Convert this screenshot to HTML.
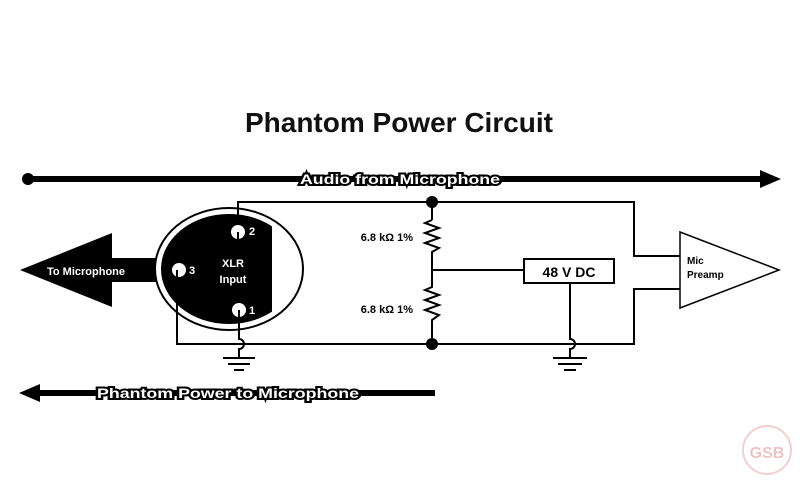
<!DOCTYPE html>
<html><head><meta charset="utf-8"><style>
html,body{margin:0;padding:0;background:#fff;}
svg{display:block;font-family:"Liberation Sans",sans-serif;}
</style></head><body>
<svg width="800" height="500" viewBox="0 0 800 500" xmlns="http://www.w3.org/2000/svg">
<rect width="800" height="500" fill="#fff"/>
<text x="399" y="132" text-anchor="middle" font-size="28" font-weight="bold" fill="#111">Phantom Power Circuit</text>
<!-- top arrow -->
<circle cx="28" cy="179" r="6" fill="#000"/>
<line x1="28" y1="179" x2="762" y2="179" stroke="#000" stroke-width="6"/>
<polygon points="760,170 781,179 760,188" fill="#000"/>
<text x="400" y="184" text-anchor="middle" font-size="14" font-weight="bold" fill="#fff" stroke="#000" stroke-width="4" paint-order="stroke" textLength="200" lengthAdjust="spacingAndGlyphs">Audio from Microphone</text>
<!-- bottom arrow -->
<line x1="36" y1="393" x2="435" y2="393" stroke="#000" stroke-width="6"/>
<polygon points="40,384 19,393 40,402" fill="#000"/>
<text x="228" y="398" text-anchor="middle" font-size="14" font-weight="bold" fill="#fff" stroke="#000" stroke-width="4" paint-order="stroke" textLength="262" lengthAdjust="spacingAndGlyphs">Phantom Power to Microphone</text>
<!-- big left arrow -->
<polygon points="20,270 112,233 112,258 165,258 165,282 112,282 112,307" fill="#000"/>
<text x="47" y="275" font-size="11" font-weight="bold" fill="#fff">To Microphone</text>
<!-- XLR -->
<ellipse cx="229" cy="269" rx="74" ry="61" fill="#fff" stroke="#000" stroke-width="2"/>
<clipPath id="c"><rect x="0" y="0" width="272" height="500"/></clipPath>
<ellipse cx="229" cy="269" rx="68" ry="55" fill="#000" clip-path="url(#c)"/>
<!-- wires -->
<g fill="none" stroke="#000" stroke-width="2">
<polyline points="238,232 238,202 634,202 634,256 680,256"/>
<polyline points="177,270 177,344 634,344 634,289 680,289"/>
<line x1="432" y1="202" x2="432" y2="220"/>
<polyline points="432,220 425,223 439,228 425,233 439,238 425,243 439,248 432,252 432,287 425,290 439,295 425,300 439,305 425,310 439,315 432,320 432,344"/>
<line x1="432" y1="270" x2="524" y2="270"/>
<rect x="524" y="259" width="90" height="24"/>
<path d="M570,283 V339 a5,5 0 0 1 0,10 V358"/>
<path d="M239,310 V339 a5,5 0 0 1 0,10 V358"/>
</g>
<circle cx="432" cy="202" r="6" fill="#000"/>
<circle cx="432" cy="344" r="6" fill="#000"/>
<text x="569" y="277" text-anchor="middle" font-size="14" font-weight="bold" fill="#000">48 V DC</text>
<text x="413" y="241" text-anchor="end" font-size="11" font-weight="bold" fill="#000">6.8 kΩ 1%</text>
<text x="413" y="313" text-anchor="end" font-size="11" font-weight="bold" fill="#000">6.8 kΩ 1%</text>
<!-- pins -->
<circle cx="238" cy="232" r="7" fill="#fff"/>
<circle cx="179" cy="270" r="7" fill="#fff"/>
<circle cx="239" cy="310" r="7" fill="#fff"/>
<g stroke="#000" stroke-width="2"><line x1="238" y1="232" x2="238" y2="240"/><line x1="177" y1="270" x2="177" y2="278"/><line x1="239" y1="310" x2="239" y2="318"/></g>
<g font-size="11" font-weight="bold" fill="#fff">
<text x="249" y="235">2</text><text x="189" y="274">3</text><text x="249" y="314">1</text>
<text x="233" y="267" text-anchor="middle">XLR</text><text x="233" y="283" text-anchor="middle">Input</text>
</g>
<!-- grounds -->
<g stroke="#000" stroke-width="2">
<line x1="223" y1="358" x2="255" y2="358"/><line x1="228" y1="364" x2="250" y2="364"/><line x1="234" y1="370" x2="244" y2="370"/>
<line x1="553" y1="358" x2="587" y2="358"/><line x1="558" y1="364" x2="582" y2="364"/><line x1="564" y1="370" x2="576" y2="370"/>
</g>
<!-- preamp -->
<polygon points="680,232 680,308 779,270" fill="#fff" stroke="#000" stroke-width="1.5"/>
<text x="687" y="264" font-size="10" font-weight="bold" fill="#000">Mic</text>
<text x="687" y="278" font-size="10" font-weight="bold" fill="#000">Preamp</text>
<!-- logo -->
<g opacity="0.35">
<circle cx="767" cy="450" r="24" fill="none" stroke="#d77" stroke-width="2"/>
<text x="767" y="458" text-anchor="middle" font-size="16" font-weight="bold" fill="#c55">GSB</text>
</g>
</svg>
</body></html>
